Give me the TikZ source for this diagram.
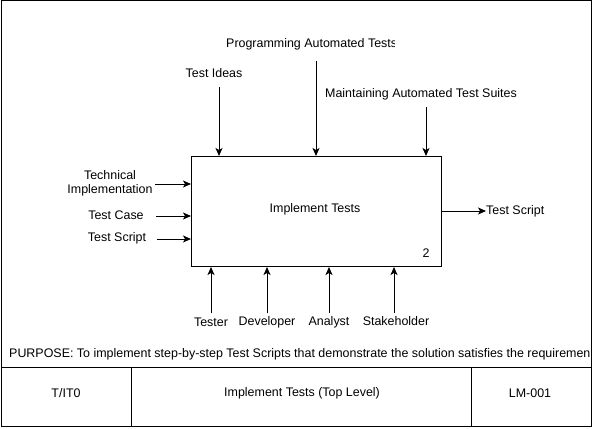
\documentclass[tikz,border=0pt]{standalone}
\usepackage{fontspec}
\setmainfont{Liberation Sans}
\usetikzlibrary{arrows.meta}
\begin{document}
\begin{tikzpicture}[x=1pt,y=-1pt,
  lbl/.style={inner sep=0pt,font=\fontsize{12.45}{14.3}\selectfont,align=center},
  arr/.style={line width=1pt,-{Stealth[length=8pt,width=7pt,inset=2pt]}},
  frame/.style={line width=1pt}]
\useasboundingbox (0,0) rectangle (599,428);
% outer frame and table
\draw[frame] (1,1) rectangle (591.5,426);
\draw[frame] (1,367) -- (591.5,367);
\draw[frame] (131,367) -- (131,426);
\draw[frame] (471,367) -- (471,426);
% main box
\node[draw,line width=1pt,minimum width=250pt,minimum height=110pt,inner sep=0pt,anchor=north west] (box) at (191,156) {};
\node[lbl] (boxt) at (315,209) {Implement Tests};
\node[lbl] (num) at (426,253) {2};
% top labels and arrows
\node[lbl] (tideas) at (214,73) {Test Ideas};
\begin{scope}
\clip (200,30) rectangle (394.5,60);
\node[lbl,anchor=west] (prog) at (226,44) {Programming Automated Tests};
\end{scope}
\node[lbl] (maint) at (421,94) {Maintaining Automated Test Suites};
\coordinate (c1) at (219,87);
\coordinate (c2) at (316,61);
\coordinate (c3) at (426,107);
\draw[arr] (c1) -- (c1 |- box.north);
\draw[arr] (c2) -- (c2 |- box.north);
\draw[arr] (c3) -- (c3 |- box.north);
% left labels and arrows
\node[lbl] (tech) at (110,183) {Technical\\Implementation};
\node[lbl] (tcase) at (116,215) {Test Case};
\node[lbl] (tscr) at (117,238) {Test Script};
\coordinate (i1) at (155,184);
\coordinate (i2) at (156,216);
\coordinate (i3) at (157,239);
\draw[arr] (i1) -- (i1 -| box.west);
\draw[arr] (i2) -- (i2 -| box.west);
\draw[arr] (i3) -- (i3 -| box.west);
% output
\node[lbl,anchor=west] (out) at (486,211) {Test Script};
\draw[arr] (box.east |- out.west) -- (out.west);
% bottom labels and arrows
\node[lbl] (tester) at (211,322) {Tester};
\node[lbl] (dev) at (267,322) {Developer};
\node[lbl] (anal) at (329,322) {Analyst};
\node[lbl] (stake) at (396,321) {Stakeholder};
\coordinate (m1) at (211,313);
\coordinate (m2) at (267,313);
\coordinate (m3) at (329,313);
\coordinate (m4) at (394,313);
\draw[arr] (m1) -- (m1 |- box.south);
\draw[arr] (m2) -- (m2 |- box.south);
\draw[arr] (m3) -- (m3 |- box.south);
\draw[arr] (m4) -- (m4 |- box.south);
% purpose
\begin{scope}
\clip (2,340) rectangle (589.5,366);
\node[lbl,anchor=west] (purp) at (9,354) {PURPOSE: To implement step-by-step Test Scripts that demonstrate the solution satisfies the requirements.};
\end{scope}
% table cells
\node[lbl] (node1) at (66,393) {T/IT0};
\begin{scope}
\clip (132,368) rectangle (378.5,425);
\node[lbl,anchor=west] (title) at (224,393) {Implement Tests (Top Level)};
\end{scope}
\node[lbl] (code) at (530,393) {LM-001};
\end{tikzpicture}
\end{document}
